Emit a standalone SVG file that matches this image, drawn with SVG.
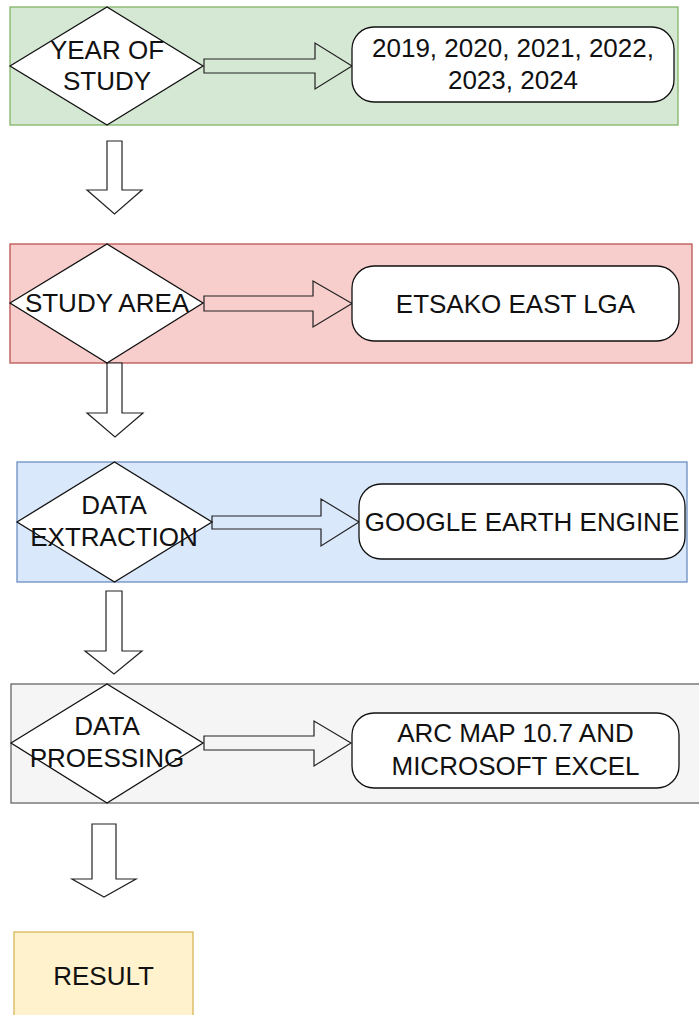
<svg xmlns="http://www.w3.org/2000/svg" width="699" height="1015" viewBox="0 0 699 1015">
<style>
.t{font-family:"Liberation Sans",Arial,sans-serif;font-size:26px;fill:#111;text-anchor:middle}
.dia{fill:#fff;stroke:#111;stroke-width:1.3}
.box{fill:#fff;stroke:#111;stroke-width:1.3}
.arr{fill:none;stroke:#222;stroke-width:1.2;stroke-linejoin:miter}
.varr{fill:#fff;stroke:#222;stroke-width:1.2;stroke-linejoin:miter}
</style>
<rect width="699" height="1015" fill="#fff"/>
<g id="panel-year">
<rect x="10" y="7" width="668" height="118" fill="#d5e8d4" stroke="#82b366" stroke-width="1.3"/>
</g>
<g id="panel-area">
<rect x="10" y="244" width="682" height="119" fill="#f8cecc" stroke="#b85450" stroke-width="1.3"/>
</g>
<g id="panel-extraction">
<rect x="17" y="462" width="670" height="120" fill="#dae8fc" stroke="#6c8ebf" stroke-width="1.3"/>
</g>
<g id="panel-processing">
<rect x="11" y="684" width="700" height="119" fill="#f5f5f5" stroke="#666666" stroke-width="1.3"/>
</g>
<g id="connectors">
<path class="arr" d="M204,59 H315 V43 L352,66 L315,89 V73 H204 Z"/>
<path class="arr" d="M204,296 H313 V281 L352,303.5 L313,327 V311 H204 Z"/>
<path class="arr" d="M212,516 H321 V499 L359,522 L321,546 V529 H212 Z"/>
<path class="arr" d="M204,736 H314 V721 L351,743 L314,766 V750 H204 Z"/>
<path class="varr" d="M107,141 H122 V190 H142 L114.5,214 L87,190 H107 Z"/>
<path class="varr" d="M107,363 H122 V413 H143 L115,437 L87,413 H107 Z"/>
<path class="varr" d="M106,591 H122 V651 H142 L114,674 L85,651 H106 Z"/>
<path class="varr" d="M92,824 H116 V879 H136 L104,897 L72,879 H92 Z"/>
</g>
<g id="year-of-study">
<polygon class="dia" points="10,66 107,7 203,66 107,125"/>
<text class="t" x="107" y="59">YEAR OF</text>
<text class="t" x="107" y="90">STUDY</text>
</g>
<g id="years">
<rect class="box" x="352" y="27" width="322" height="75" rx="22" ry="22"/>
<text class="t" x="513" y="57">2019, 2020, 2021, 2022,</text>
<text class="t" x="513" y="89">2023, 2024</text>
</g>
<g id="study-area">
<polygon class="dia" points="10,303 107,244 203,303 107,363"/>
<text class="t" x="107" y="312">STUDY AREA</text>
</g>
<g id="etsako">
<rect class="box" x="352" y="266" width="327" height="75" rx="22" ry="22"/>
<text class="t" x="515.5" y="313">ETSAKO EAST LGA</text>
</g>
<g id="data-extraction">
<polygon class="dia" points="17,522 114.5,462 212,522 114.5,582"/>
<text class="t" x="114" y="514">DATA</text>
<text class="t" x="114" y="546">EXTRACTION</text>
</g>
<g id="gee">
<rect class="box" x="359" y="484" width="326" height="75" rx="22" ry="22"/>
<text class="t" x="522" y="531">GOOGLE EARTH ENGINE</text>
</g>
<g id="data-processing">
<polygon class="dia" points="11,743 107,684 203,743 107,803"/>
<text class="t" x="107" y="735">DATA</text>
<text class="t" x="107" y="767">PROESSING</text>
</g>
<g id="arcmap">
<rect class="box" x="352" y="713" width="327" height="75" rx="22" ry="22"/>
<text class="t" x="515.5" y="742">ARC MAP 10.7 AND</text>
<text class="t" x="515.5" y="775">MICROSOFT EXCEL</text>
</g>
<g id="result">
<rect x="14" y="932" width="179" height="100" fill="#fff2cc" stroke="#d6b656" stroke-width="1.3"/>
<text class="t" x="103.5" y="985">RESULT</text>
</g>
</svg>
